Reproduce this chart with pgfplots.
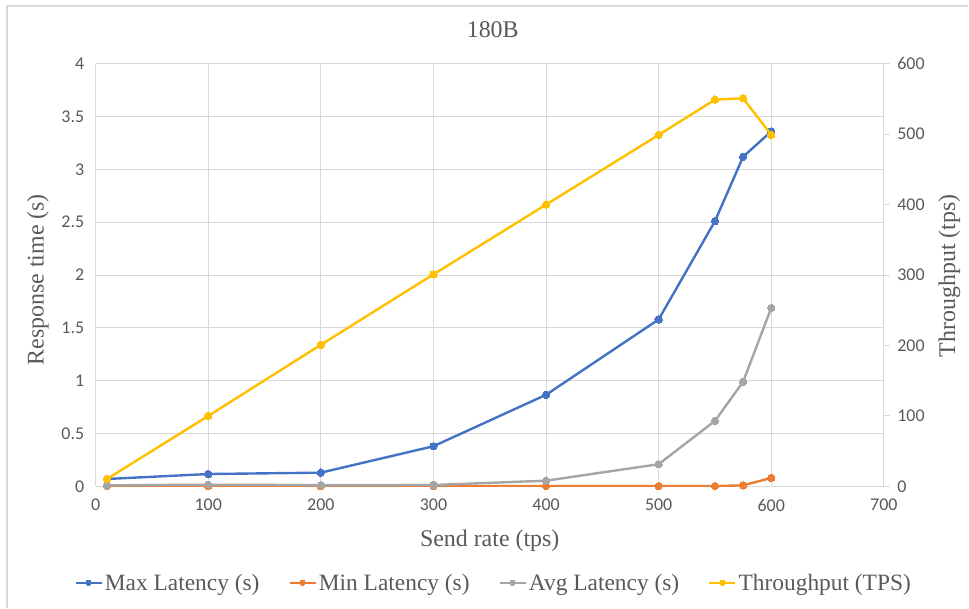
\documentclass[border=0pt]{standalone}
\usepackage{fontspec}
\setmainfont{Liberation Serif}
\newfontfamily\tickfont{Carlito}
\usepackage{pgfplots}
\pgfplotsset{compat=1.18}

\definecolor{maxblue}{HTML}{4472C4}
\definecolor{minorange}{HTML}{ED7D31}
\definecolor{avggray}{HTML}{A5A5A5}
\definecolor{tpsyellow}{HTML}{FFC000}
\definecolor{gridgray}{HTML}{D9D9D9}
\definecolor{txtgray}{HTML}{595959}

\pgfplotsset{
  chartbase/.style={
    at={(95.7bp,121.3bp)}, anchor=south west,
    width=788.7bp, height=422.9bp, scale only axis,
    xmin=0, xmax=700,
    tick label style={font=\tickfont\fontsize{18}{21}\selectfont, text=txtgray},
    /pgf/number format/assume math mode=true,
    axis line style={gridgray, line width=1bp},
  },
  series/.style={color=#1, line width=2.4bp, mark=*, mark size=3.7bp,
    mark options={fill=#1, draw=#1, line width=0pt}},
}

\begin{document}
\begin{tikzpicture}[x=1bp,y=1bp]
  \path (0,0) rectangle (969,608);
  \draw[gridgray, line width=1.2bp] (7,0) -- (7,602) -- (969,602);

  % left axis: response times
  \begin{axis}[chartbase,
      ymin=0, ymax=4,
      xtick={0,100,...,700},
      ytick={0,0.5,...,4},
      yticklabels={0,0.5,1,1.5,2,2.5,3,3.5,4},
      grid=major,
      grid style={gridgray, line width=1bp},
      axis x line*=bottom, axis y line*=left,
      major tick length=0pt,
      xticklabel style={yshift=-9bp},
      yticklabel style={xshift=-8bp},
    ]
    \addplot[series=maxblue] coordinates {
      (10,0.07) (100,0.117) (200,0.13) (300,0.38) (400,0.867)
      (500,1.58) (550,2.51) (575,3.12) (600,3.36)};
    \addplot[series=minorange] coordinates {
      (10,0.004) (100,0.004) (200,0.003) (300,0.003) (400,0.003)
      (500,0.003) (550,0.003) (575,0.01) (600,0.08)};
    \addplot[series=avggray] coordinates {
      (10,0.01) (100,0.016) (200,0.012) (300,0.013) (400,0.054)
      (500,0.21) (550,0.62) (575,0.99) (600,1.69)};
  \end{axis}

  % right axis: throughput
  \begin{axis}[chartbase,
      ymin=0, ymax=600,
      ytick={0,100,...,600},
      axis x line=none, axis y line*=right,
      ytick style={gridgray, line width=1bp},
      tick align=outside, major tick length=6bp,
      yticklabel style={xshift=4bp},
      legend style={at={(0.505,-0.228)}, anchor=center, draw=none, fill=none,
        font=\fontsize{23.5}{27}\selectfont, text=txtgray,
        legend columns=-1, inner sep=0pt,
        /tikz/every even column/.append style={column sep=27bp}},
      legend image code/.code={
        \draw[#1, line width=2.4bp, mark=none] (-13bp,0bp) -- (13bp,0bp);
        \draw[#1, mark size=2.6bp] plot coordinates {(0bp,0bp)};
      },
    ]
    \addlegendimage{series=maxblue}
    \addlegendentry{Max Latency (s)}
    \addlegendimage{series=minorange}
    \addlegendentry{Min Latency (s)}
    \addlegendimage{series=avggray}
    \addlegendentry{Avg Latency (s)}
    \addplot[series=tpsyellow] coordinates {
      (10,10.5) (100,100) (200,201) (300,301) (400,400)
      (500,499) (550,549) (575,551) (600,499)};
    \addlegendentry{Throughput (TPS)}
  \end{axis}

  % titles and axis names
  \begin{scope}[font=\fontsize{24}{28}\selectfont, text=txtgray]
    \node at (493,578) {180B};
    \node at (490,67) {Send rate (tps)};
    \node[rotate=90] at (38,328) {Response time (s)};
    \node[rotate=90] at (950,332) {Throughput (tps)};
  \end{scope}
\end{tikzpicture}
\end{document}
